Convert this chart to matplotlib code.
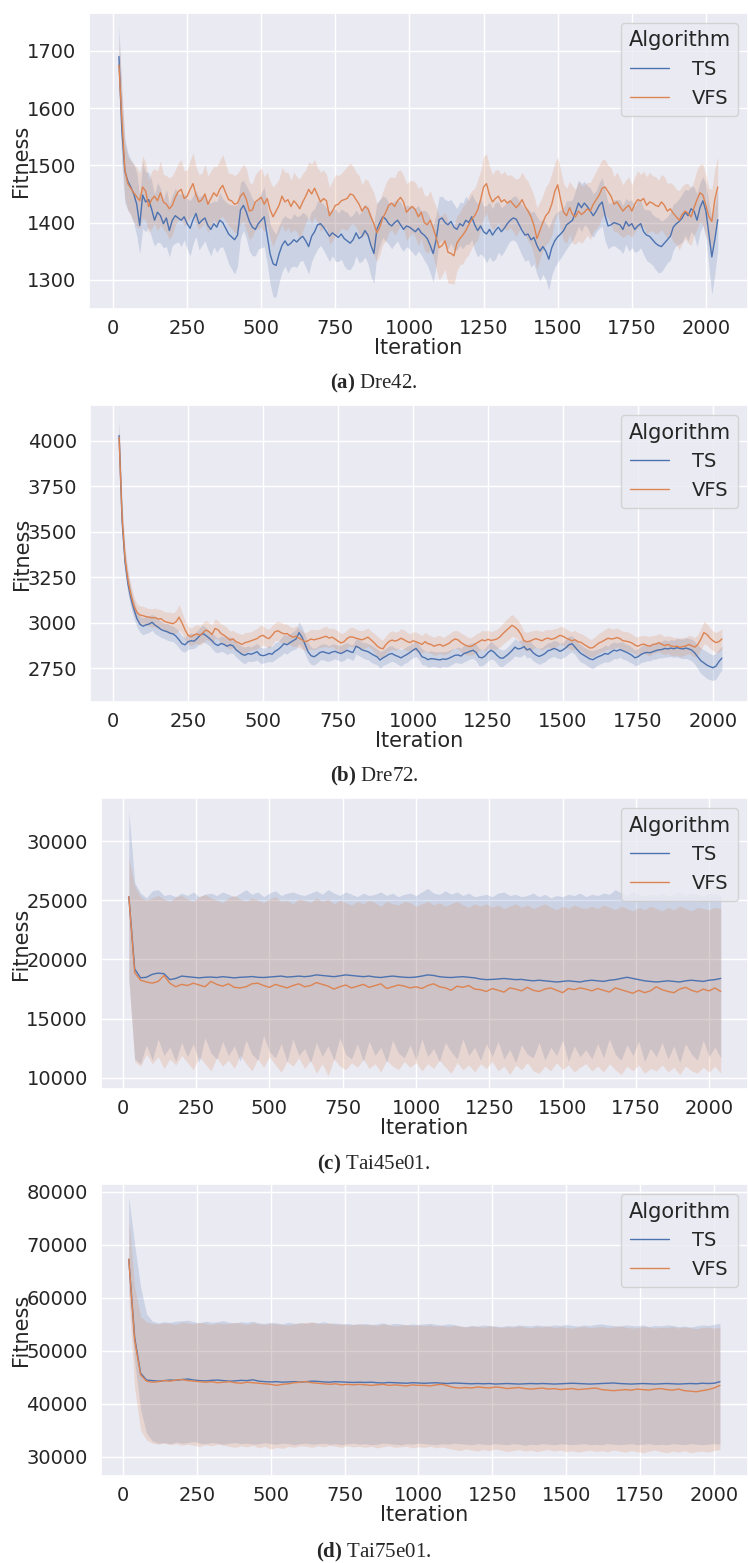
import numpy as np
import matplotlib.pyplot as plt
import seaborn as sns
from matplotlib.ticker import MultipleLocator

# ---- Dre42: mean fitness and CI half-width, every 10 iterations from 20 ----
dre42_ts_mean = [
    1690, 1560, 1490, 1472, 1462, 1450, 1432, 1395, 1448, 1436,
    1440, 1424, 1404, 1418, 1412, 1398, 1408, 1386, 1404, 1412,
    1408, 1404, 1410, 1398, 1390, 1405, 1416, 1398, 1404, 1408,
    1395, 1388, 1398, 1392, 1404, 1400, 1390, 1380, 1375, 1370,
    1378, 1422, 1430, 1418, 1402, 1392, 1388, 1398, 1404, 1410,
    1378, 1345, 1328, 1325, 1345, 1360, 1368, 1360, 1364, 1370,
    1366, 1372, 1376, 1368, 1358, 1376, 1384, 1396, 1398, 1392,
    1384, 1376, 1382, 1378, 1374, 1380, 1372, 1368, 1364, 1370,
    1382, 1372, 1376, 1386, 1378, 1360, 1346, 1388, 1400, 1410,
    1406, 1398, 1394, 1400, 1404, 1396, 1388, 1394, 1392, 1388,
    1384, 1390, 1382, 1378, 1372, 1360, 1346, 1370, 1405, 1408,
    1400, 1396, 1402, 1392, 1388, 1398, 1394, 1404, 1400, 1410,
    1396, 1386, 1394, 1384, 1380, 1388, 1378, 1386, 1392, 1384,
    1390, 1398, 1404, 1408, 1406, 1396, 1386, 1378, 1380, 1370,
    1374, 1360, 1350, 1358, 1350, 1336, 1356, 1368, 1375, 1380,
    1386, 1396, 1400, 1404, 1418, 1434, 1426, 1434, 1428, 1420,
    1412, 1420, 1430, 1436, 1412, 1394, 1396, 1400, 1398, 1396,
    1388, 1402, 1394, 1398, 1388, 1394, 1398, 1384, 1378, 1376,
    1370, 1364, 1360, 1358, 1364, 1370, 1376, 1392, 1398, 1402,
    1408, 1418, 1412, 1424, 1420, 1404, 1426, 1438, 1420, 1380,
    1340, 1370, 1405,
]
dre42_ts_ci = [
    55, 60, 55, 50, 48, 52, 55, 50, 58, 52,
    48, 50, 45, 52, 48, 42, 50, 46, 44, 48,
    42, 46, 40, 44, 48, 42, 40, 46, 44, 40,
    42, 46, 40, 44, 48, 42, 46, 52, 56, 60,
    54, 48, 44, 46, 52, 50, 46, 44, 48, 52,
    50, 52, 58, 55, 50, 46, 44, 48, 42, 46,
    44, 40, 42, 46, 48, 44, 40, 42, 38, 40,
    42, 44, 40, 46, 42, 44, 48, 50, 46, 44,
    40, 42, 44, 46, 50, 54, 52, 46, 40, 36,
    38, 36, 40, 38, 36, 40, 38, 36, 38, 40,
    42, 40, 38, 44, 46, 48, 50, 44, 40, 38,
    40, 42, 38, 40, 36, 38, 40, 42, 38, 40,
    44, 46, 48, 44, 50, 48, 46, 50, 44, 42,
    40, 38, 36, 38, 40, 42, 44, 46, 44, 48,
    46, 50, 52, 48, 50, 54, 48, 46, 44, 42,
    40, 42, 38, 36, 38, 40, 42, 38, 36, 40,
    38, 36, 40, 42, 44, 40, 38, 40, 42, 44,
    42, 40, 44, 42, 40, 44, 42, 40, 44, 46,
    44, 46, 48, 44, 42, 40, 42, 40, 38, 40,
    42, 40, 44, 40, 42, 46, 44, 42, 48, 56,
    66, 60, 52,
]
dre42_vfs_mean = [
    1675, 1580, 1492, 1468, 1460, 1452, 1445, 1438, 1462, 1455,
    1428, 1440, 1446, 1438, 1452, 1436, 1432, 1424, 1430, 1444,
    1454, 1458, 1442, 1446, 1458, 1468, 1448, 1436, 1440, 1450,
    1432, 1442, 1452, 1446, 1458, 1465, 1452, 1440, 1438, 1432,
    1434, 1446, 1452, 1440, 1420, 1422, 1436, 1440, 1444, 1432,
    1442, 1422, 1410, 1420, 1430, 1446, 1436, 1440, 1428, 1438,
    1432, 1424, 1436, 1446, 1458, 1450, 1460, 1448, 1436, 1442,
    1438, 1412, 1420, 1430, 1432, 1438, 1440, 1442, 1450, 1448,
    1440, 1432, 1420, 1428, 1424, 1410, 1398, 1382, 1392, 1408,
    1418, 1430, 1434, 1428, 1438, 1444, 1436, 1418, 1424, 1428,
    1422, 1410, 1418, 1400, 1396, 1404, 1390, 1374, 1356, 1360,
    1368, 1348, 1346, 1342, 1364, 1372, 1378, 1386, 1396, 1406,
    1412, 1422, 1440, 1462, 1468, 1448, 1436, 1442, 1446, 1436,
    1440, 1434, 1438, 1432, 1426, 1432, 1440, 1428, 1420, 1410,
    1395, 1372, 1386, 1400, 1412, 1418, 1432, 1454, 1466, 1440,
    1418, 1412, 1426, 1414, 1410, 1420, 1414, 1418, 1424, 1420,
    1432, 1440, 1448, 1460, 1462, 1454, 1446, 1432, 1436, 1428,
    1420, 1426, 1430, 1420, 1432, 1440, 1438, 1442, 1430, 1436,
    1434, 1430, 1428, 1436, 1430, 1420, 1424, 1416, 1410, 1404,
    1414, 1420, 1416, 1410, 1426, 1440, 1452, 1448, 1430, 1410,
    1402, 1440, 1462,
]
dre42_vfs_ci = [
    50, 55, 50, 46, 48, 50, 52, 48, 54, 50,
    46, 50, 48, 52, 56, 48, 50, 54, 52, 48,
    50, 52, 48, 46, 50, 54, 50, 48, 46, 52,
    50, 48, 46, 52, 50, 54, 50, 46, 48, 50,
    52, 48, 50, 54, 50, 46, 48, 50, 52, 48,
    46, 50, 52, 48, 46, 50, 52, 48, 46, 50,
    48, 52, 50, 46, 48, 52, 50, 48, 52, 50,
    46, 50, 52, 54, 50, 48, 52, 56, 54, 50,
    48, 50, 46, 48, 50, 52, 54, 50, 48, 46,
    50, 48, 46, 50, 52, 48, 46, 50, 48, 46,
    48, 50, 46, 48, 50, 52, 50, 54, 56, 52,
    50, 54, 52, 50, 48, 46, 50, 48, 52, 50,
    48, 52, 50, 54, 52, 50, 48, 50, 46, 48,
    50, 48, 46, 48, 50, 46, 48, 50, 52, 50,
    52, 54, 50, 48, 50, 52, 54, 50, 48, 52,
    50, 48, 46, 50, 48, 52, 50, 48, 46, 50,
    48, 50, 52, 50, 48, 46, 50, 48, 52, 50,
    46, 48, 50, 46, 48, 50, 46, 48, 50, 52,
    48, 50, 46, 48, 50, 48, 46, 50, 48, 52,
    50, 48, 52, 50, 48, 52, 50, 54, 52, 50,
    56, 54, 52,
]

# ---- Dre72: mean fitness and CI half-width, every 10 iterations from 20 ----
dre72_ts_mean = [
    4030, 3560, 3330, 3210, 3130, 3070, 3020, 2990, 2980, 2988,
    2992, 3002, 2986, 2975, 2962, 2955, 2950, 2942, 2938, 2925,
    2905, 2884, 2878, 2895, 2900, 2898, 2912, 2930, 2940, 2928,
    2915, 2900, 2882, 2874, 2885, 2880, 2870, 2878, 2872, 2850,
    2838, 2825, 2820, 2830, 2826, 2832, 2840, 2822, 2818, 2822,
    2830, 2826, 2842, 2852, 2866, 2884, 2878, 2890, 2900, 2910,
    2945, 2920, 2880, 2840, 2818, 2812, 2822, 2836, 2840, 2834,
    2830, 2838, 2842, 2835, 2830, 2838, 2848, 2840, 2836, 2870,
    2862, 2850, 2845, 2840, 2830, 2820, 2812, 2794, 2806, 2815,
    2826, 2830, 2820, 2814, 2806, 2816, 2825, 2836, 2848, 2858,
    2838, 2812, 2806, 2796, 2802, 2800, 2797, 2795, 2800, 2798,
    2804, 2812, 2820, 2822, 2816, 2830, 2835, 2842, 2848, 2836,
    2810, 2806, 2816, 2835, 2848, 2838, 2820, 2806, 2804, 2816,
    2830, 2846, 2865, 2855, 2858, 2868, 2850, 2856, 2835, 2822,
    2814, 2820, 2830, 2845, 2850, 2858, 2852, 2842, 2850, 2862,
    2878, 2884, 2866, 2846, 2830, 2820, 2810, 2800, 2796, 2806,
    2814, 2820, 2830, 2826, 2838, 2848, 2844, 2852, 2845, 2838,
    2830, 2820, 2806, 2812, 2824, 2832, 2836, 2834, 2840, 2846,
    2850, 2852, 2858, 2855, 2860, 2856, 2862, 2858, 2855, 2860,
    2855, 2848, 2832, 2810, 2790, 2778, 2766, 2758, 2752, 2760,
    2785, 2805,
]
dre72_ts_ci = [
    90, 80, 60, 55, 50, 48, 46, 44, 46, 48,
    46, 44, 48, 46, 44, 42, 46, 44, 42, 44,
    46, 42, 40, 42, 44, 40, 42, 44, 46, 42,
    40, 42, 44, 40, 42, 44, 46, 44, 42, 40,
    42, 44, 46, 42, 40, 44, 46, 44, 42, 40,
    44, 42, 46, 44, 48, 50, 52, 48, 50, 54,
    60, 56, 52, 50, 48, 46, 44, 42, 44, 46,
    42, 44, 40, 42, 44, 46, 42, 40, 44, 42,
    44, 42, 46, 44, 48, 46, 44, 46, 42, 44,
    46, 42, 40, 44, 46, 42, 44, 40, 42, 44,
    42, 44, 40, 42, 44, 40, 42, 44, 40, 42,
    44, 42, 40, 44, 42, 46, 44, 42, 44, 46,
    48, 44, 42, 46, 48, 44, 46, 48, 44, 42,
    44, 46, 48, 44, 46, 42, 44, 46, 44, 42,
    44, 42, 46, 44, 42, 44, 46, 42, 44, 46,
    48, 44, 42, 46, 48, 44, 46, 48, 50, 46,
    44, 42, 46, 44, 48, 46, 44, 42, 46, 44,
    46, 44, 42, 46, 44, 48, 46, 44, 42, 46,
    44, 46, 48, 44, 46, 48, 50, 52, 54, 56,
    58, 60, 62, 66, 70, 72, 74, 72, 70, 72,
    68, 66,
]
dre72_vfs_mean = [
    4020, 3580, 3350, 3230, 3150, 3090, 3055, 3042, 3038, 3033,
    3030, 3026, 3028, 3020, 3022, 3008, 3002, 2998, 2994, 3005,
    3030, 2998, 2960, 2930, 2922, 2932, 2938, 2930, 2945, 2960,
    2950, 2935, 2968, 2960, 2940, 2930, 2918, 2904, 2910, 2895,
    2888, 2880, 2890, 2894, 2900, 2906, 2912, 2925, 2930, 2918,
    2912, 2930, 2950, 2955, 2945, 2938, 2940, 2928, 2920, 2925,
    2915, 2905, 2895, 2900, 2910, 2905, 2910, 2914, 2920, 2925,
    2915, 2920, 2910, 2898, 2888, 2895, 2912, 2922, 2920, 2914,
    2910, 2905, 2912, 2920, 2905, 2890, 2872, 2860, 2856, 2880,
    2896, 2904, 2898, 2904, 2914, 2906, 2896, 2890, 2900, 2895,
    2888, 2880, 2895, 2884, 2880, 2870, 2876, 2880, 2870, 2878,
    2886, 2900, 2910, 2905, 2890, 2880, 2872, 2868, 2874, 2885,
    2895, 2905, 2900, 2908, 2902, 2905, 2910, 2922, 2940, 2955,
    2970, 2985, 2975, 2960, 2935, 2900, 2895, 2898, 2906, 2912,
    2906, 2900, 2910, 2915, 2908, 2912, 2920, 2930, 2925, 2915,
    2908, 2900, 2906, 2895, 2892, 2880, 2870, 2860, 2862, 2875,
    2888, 2895, 2905, 2914, 2910, 2912, 2918, 2912, 2900, 2898,
    2894, 2888, 2876, 2870, 2878, 2882, 2874, 2870, 2880, 2882,
    2890, 2880, 2874, 2880, 2872, 2868, 2870, 2864, 2868, 2872,
    2880, 2872, 2865, 2880, 2910, 2945, 2935, 2915, 2900, 2890,
    2895, 2910,
]
dre72_vfs_ci = [
    80, 70, 60, 55, 52, 50, 48, 50, 52, 50,
    48, 50, 52, 54, 50, 52, 56, 60, 58, 62,
    70, 58, 52, 50, 48, 50, 52, 54, 56, 52,
    50, 52, 54, 50, 52, 56, 54, 50, 48, 50,
    52, 54, 56, 52, 50, 54, 56, 58, 54, 50,
    52, 54, 50, 52, 56, 54, 52, 50, 52, 56,
    52, 50, 48, 52, 54, 56, 52, 50, 54, 56,
    52, 50, 54, 56, 52, 50, 48, 52, 54, 50,
    48, 50, 52, 50, 48, 52, 54, 52, 50, 48,
    50, 52, 50, 48, 52, 54, 50, 48, 50, 52,
    50, 48, 52, 50, 48, 50, 52, 50, 48, 50,
    52, 50, 48, 50, 52, 54, 50, 48, 50, 52,
    50, 52, 54, 50, 48, 52, 54, 56, 58, 60,
    62, 60, 56, 54, 52, 50, 52, 54, 50, 48,
    50, 52, 50, 48, 52, 54, 50, 48, 52, 50,
    48, 50, 52, 50, 48, 52, 50, 48, 50, 52,
    54, 56, 58, 60, 56, 54, 52, 50, 52, 54,
    52, 50, 48, 52, 50, 48, 52, 54, 50, 48,
    50, 52, 50, 48, 52, 50, 48, 52, 50, 48,
    50, 52, 54, 56, 60, 62, 58, 56, 54, 56,
    58, 56,
]

# ---- Tai45e01: mean and CI bounds, every 20 iterations from 20 ----
tai45_ts_mean = [
    25300, 19200, 18450, 18500, 18750, 18850, 18800, 18300, 18400, 18600,
    18550, 18500, 18450, 18500, 18520, 18480, 18550, 18500, 18450, 18500,
    18520, 18560, 18500, 18480, 18520, 18560, 18600, 18520, 18550, 18600,
    18550, 18600, 18700, 18650, 18600, 18550, 18620, 18700, 18650, 18600,
    18550, 18600, 18520, 18480, 18550, 18600, 18550, 18500, 18480, 18520,
    18600, 18700, 18650, 18550, 18500, 18480, 18520, 18550, 18500, 18450,
    18350, 18300, 18320, 18350, 18400, 18350, 18300, 18320, 18250, 18200,
    18250, 18200, 18150, 18100, 18150, 18200, 18150, 18100, 18200, 18250,
    18200, 18150, 18250, 18300, 18400, 18500, 18400, 18300, 18200, 18150,
    18100, 18150, 18200, 18150, 18100, 18200, 18250, 18200, 18150, 18250,
    18300, 18400,
]
tai45_ts_hi = [
    32500, 26500, 25600, 25200, 25800, 25900, 25400, 25500, 25300, 25600,
    25400, 25700, 25300, 25500, 25600, 25400, 25700, 25500, 25300, 25600,
    25900, 25500, 25700, 25300, 25600, 25800, 25400, 25600, 25700, 25500,
    25400, 25600, 25800, 25500, 25900, 25600, 25400, 25700, 25500, 25300,
    25600, 25400, 25500, 25700, 25400, 25600, 25300, 25500, 25600, 25400,
    25700, 26000, 25600, 25500, 25800, 25500, 25700, 25400, 25600, 25300,
    25400, 25500, 25300, 25600, 25700, 25400, 25500, 25300, 25400, 25600,
    25300, 25500, 25200, 25400, 25300, 25500, 25400, 25600, 25300, 25500,
    25400, 25600, 25500, 25900, 25600, 25400, 25700, 25500, 25300, 25500,
    25400, 25600, 25300, 25500, 25700, 25400, 25600, 25500, 25300, 25600,
    25500, 25400,
]
tai45_ts_lo = [
    18400, 11600, 11200, 12800, 11500, 13300, 11900, 12600, 11400, 13000,
    11800, 12900, 11300, 13400, 12100, 11600, 13100, 11900, 12700, 11400,
    13200, 12000, 11500, 13600, 12200, 11700, 12900, 11400, 13300, 11900,
    12500, 11300, 13000, 11800, 12700, 11500, 13400, 12000, 11600, 12900,
    11400, 13100, 11900, 12600, 11300, 13200, 12100, 11700, 12800, 11500,
    13300, 11800, 12500, 11400, 13000, 12200, 11600, 13300, 11900, 12600,
    11500, 12900, 11800, 13100, 11600, 12400, 11300, 12800, 12000, 11700,
    13000, 11500, 12600, 11900, 13200, 11400, 12700, 11800, 12400, 11600,
    12900, 11700, 13300, 12000, 11500, 12800, 11900, 13100, 11400, 12500,
    11800, 13000, 11600, 12700, 11300, 12900, 12000, 11500, 13200, 11800,
    12600, 11700,
]
tai45_vfs_mean = [
    25300, 18900, 18250, 18100, 18000, 18150, 18650, 18000, 17700, 17900,
    17800, 18000, 17850, 17700, 18150, 17900, 17750, 17950, 17650, 17600,
    17700, 17950, 18000, 17800, 17650, 17900, 17750, 17600, 17800, 17950,
    17700, 17800, 18050, 17900, 17750, 17500, 17700, 17850, 17600, 17750,
    17900, 17650, 17800, 17950, 17550, 17700, 17850, 17750, 17600, 17700,
    17550, 17800, 17950, 17700, 17600, 17400, 17750, 17650, 17800, 17500,
    17450, 17300, 17550, 17400, 17250, 17600, 17500, 17350, 17650, 17400,
    17300, 17500, 17600, 17400, 17200, 17550, 17450, 17600, 17500, 17350,
    17550, 17400, 17250, 17600, 17450, 17300, 17150, 17400, 17200, 17350,
    17700, 17450, 17300, 17200, 17500, 17650, 17400, 17250, 17500, 17350,
    17600, 17300,
]
tai45_vfs_hi = [
    28500, 26200, 25300, 25000, 25200, 25400, 25100, 24900, 25300, 25400,
    25100, 24900, 25300, 25500, 25200, 25000, 24800, 25200, 25400, 25100,
    24900, 25200, 25000, 24800, 25100, 25300, 24900, 25000, 24700, 25100,
    25000, 24800, 25200, 24900, 25100, 24700, 25000, 24800, 24600, 24900,
    24700, 25000, 24800, 24500, 24900, 24700, 24600, 24900, 24800, 24500,
    24700, 24900, 24600, 24800, 24500, 24700, 24900, 24600, 24400, 24700,
    24500, 24700, 24400, 24600, 24300, 24500, 24700, 24400, 24600, 24300,
    24500, 24700, 24400, 24200, 24500, 24300, 24600, 24400, 24300, 24500,
    24300, 24600, 24400, 24200, 24500, 24300, 24100, 24400, 24200, 24500,
    24300, 24100, 24400, 24200, 24500, 24300, 24100, 24400, 24300, 24200,
    24400, 24300,
]
tai45_vfs_lo = [
    18300, 11400, 11000, 12000, 11200, 11800, 10800, 11600, 11100, 11900,
    11300, 10700, 11800, 11200, 10600, 11700, 11000, 11500, 10800, 11900,
    11200, 10600, 11600, 10900, 11800, 11100, 10500, 11400, 11000, 11700,
    10800, 11500, 10400, 11200, 10200, 11600, 11000, 10700, 11300, 10900,
    11600, 10800, 11200, 10500, 11500, 11000, 10700, 11400, 10900, 11300,
    10600, 11200, 10800, 11500, 10900, 10400, 11300, 10700, 11100, 10500,
    11200, 10800, 11400, 10600, 11000, 10300, 11100, 10700, 11300, 10600,
    10400, 11000, 10600, 11300, 10700, 11100, 10500, 10900, 11200, 10600,
    11000, 10500, 11200, 10700, 10300, 11000, 10600, 11100, 10400, 10800,
    10600, 11100, 10500, 10900, 10300, 11000, 10600, 10400, 10900, 10500,
    11000, 10400,
]

# ---- Tai75e01: mean and CI bounds, every 20 iterations from 20 ----
tai75_ts_mean = [
    67300, 52500, 45800, 44500, 44400, 44300, 44400, 44500, 44450, 44600,
    44700, 44500, 44400, 44350, 44450, 44500, 44400, 44300, 44350, 44450,
    44400, 44550, 44300, 44200, 44150, 44200, 44100, 44150, 44200, 44100,
    44200, 44300, 44250, 44150, 44100, 44200, 44150, 44100, 44050, 44100,
    44050, 44100, 44000, 43950, 44050, 44000, 43950, 43900, 44000, 43950,
    43900, 43950, 44000, 43900, 43850, 43950, 43900, 43850, 43800, 43850,
    43800, 43850, 43750, 43800, 43850, 43800, 43750, 43800, 43850, 43800,
    43850, 43800, 43750, 43800, 43850, 43900, 43850, 43800, 43750, 43800,
    43850, 43900, 43950, 43850, 43800, 43750, 43800, 43850, 43800, 43750,
    43800, 43850, 43800, 43750, 43800, 43850, 43800, 43900, 43850, 43900,
    44200,
]
tai75_ts_hi = [
    79000, 70000, 62000, 57000, 55600, 55300, 55500, 55400, 55600, 55700,
    55800, 55500, 55300, 55600, 55400, 55500, 55700, 55400, 55300, 55500,
    55400, 55600, 55300, 55200, 55400, 55300, 55100, 55400, 55200, 55300,
    55200, 55400, 55300, 55500, 55200, 55300, 55100, 55200, 55000, 55100,
    55200, 55000, 55100, 55300, 55000, 55200, 55100, 54900, 55100, 55000,
    55100, 55200, 55000, 54900, 55100, 55000, 54700, 54600, 54800, 54700,
    54900, 54800, 54700, 54600, 54800, 54700, 54900, 54800, 54700, 54900,
    54800, 54700, 54900, 54800, 55000, 54800, 54700, 54900, 54800, 55000,
    55100, 54900, 54800, 54700, 54900, 54800, 54700, 54900, 54600, 54800,
    54700, 54900, 54800, 54600, 54700, 54500, 54700, 54900, 54800, 55000,
    55200,
]
tai75_ts_lo = [
    62000, 48000, 39000, 34500, 33000, 32600, 32700, 32500, 32800, 32600,
    32700, 32900, 32600, 32500, 32700, 32600, 32400, 32600, 32700, 32500,
    32600, 32400, 32500, 32700, 32500, 32400, 32600, 32500, 32300, 32500,
    32600, 32400, 32500, 32600, 32400, 32500, 32300, 32500, 32600, 32400,
    32500, 32300, 32400, 32600, 32500, 32400, 32300, 32500, 32400, 32600,
    32500, 32400, 32300, 32500, 32400, 32600, 32500, 32400, 32300, 32500,
    32400, 32300, 32500, 32400, 32300, 32500, 32400, 32200, 32400, 32300,
    32500, 32400, 32300, 32500, 32400, 32300, 32400, 32500, 32300, 32400,
    32300, 32500, 32400, 32300, 32400, 32500, 32300, 32400, 32500, 32300,
    32400, 32300, 32500, 32400, 32300, 32500, 32400, 32300, 32400, 32500,
    32400,
]
tai75_vfs_mean = [
    67300, 52000, 45500, 44300, 44100, 44200, 44400, 44300, 44500, 44600,
    44400, 44300, 44200, 44100, 44200, 44000, 44100, 44200, 44000, 43900,
    44100, 44000, 43900, 43800, 43700, 43500, 43700, 43800, 44000, 44100,
    44200, 44000, 43900, 43800, 43700, 43800, 43600, 43700, 43600, 43700,
    43600, 43500, 43600, 43700, 43500, 43600, 43500, 43400, 43600, 43500,
    43500, 43400, 43600, 43700, 43400, 43100, 43000, 43100, 43000, 43200,
    43100, 43000, 43200, 43100, 42900, 43000, 43100, 42900, 42800, 42900,
    43000, 42800, 42900, 42700, 42800, 42900, 42700, 42800, 42900, 43000,
    42700, 42600, 42500, 42600, 42700, 42600, 42800, 42700, 42600, 42800,
    42900, 42700, 42600, 42800, 42500, 42400, 42300, 42500, 42700, 43000,
    43500,
]
tai75_vfs_hi = [
    75000, 62000, 56500, 55500, 55200, 55100, 55300, 55200, 55000, 55400,
    55300, 55100, 55400, 55200, 55000, 55300, 55100, 55200, 55400, 55200,
    55000, 55300, 55100, 55000, 55200, 55100, 55000, 54900, 55100, 55300,
    55400, 55500, 55200, 55100, 55300, 55000, 55100, 54900, 55000, 55100,
    54900, 55000, 54800, 55100, 54900, 54700, 54900, 55000, 54800, 54900,
    54800, 54900, 54700, 54800, 54600, 54800, 54700, 54500, 54700, 54600,
    54500, 54700, 54600, 54400, 54600, 54500, 54700, 54500, 54400, 54600,
    54500, 54700, 54400, 54600, 54500, 54300, 54500, 54600, 54400, 54500,
    54600, 54400, 54500, 54700, 54500, 54300, 54400, 54600, 54500, 54300,
    54500, 54400, 54600, 54300, 54500, 54400, 54200, 54400, 54500, 54300,
    54500,
]
tai75_vfs_lo = [
    60000, 43000, 35000, 33200, 32600, 32400, 32600, 32300, 32500, 32200,
    32400, 32200, 32000, 32300, 32100, 32400, 32200, 32000, 31800, 32100,
    31900, 32200, 31700, 32000, 31500, 31800, 31600, 32000, 31800, 32100,
    32000, 31800, 32100, 31900, 32200, 32000, 31800, 32100, 31900, 32000,
    31800, 32000, 31700, 31900, 32100, 31800, 31900, 32000, 31700, 31900,
    31800, 32000, 31700, 31900, 31600, 31400, 31200, 31500, 31300, 31100,
    31400, 31200, 31500, 31300, 31000, 31200, 31400, 31100, 31300, 31000,
    31200, 31400, 31100, 31300, 31000, 31200, 30900, 31100, 31300, 31000,
    31200, 31000, 31300, 31100, 30900, 31200, 31000, 30800, 31100, 31300,
    31000, 30800, 31100, 30900, 31200, 30800, 31000, 31100, 30900, 31200,
    31400,
]

TS_COLOR = "#4c72b0"
VFS_COLOR = "#dd8452"

sns.set_theme(style="darkgrid")
plt.rcParams["font.family"] = ["DejaVu Sans"]
plt.rcParams["mathtext.fontset"] = "custom"
plt.rcParams["mathtext.rm"] = "Liberation Serif"
plt.rcParams["mathtext.bf"] = "Liberation Serif:bold"


def sym_band(mean, half):
    mean = np.asarray(mean, float)
    half = np.asarray(half, float)
    return mean - half, mean + half


def draw(ax, step, series, xlim, ylim, ystep):
    for name, color, mean, lo, hi in series:
        it = 20 + step * np.arange(len(mean))
        ax.fill_between(it, lo, hi, color=color, alpha=0.2, linewidth=0)
        ax.plot(it, mean, color=color, lw=1.0, label=name)
    ax.set_xlim(*xlim)
    ax.set_ylim(*ylim)
    ax.xaxis.set_major_locator(MultipleLocator(250))
    ax.yaxis.set_major_locator(MultipleLocator(ystep))
    ax.tick_params(labelsize=14)
    ax.tick_params(axis="x", pad=1.5)
    ax.set_xlabel("Iteration", fontsize=15, labelpad=-0.5)
    ax.set_ylabel("Fitness", fontsize=15, labelpad=-3.5)
    ax.legend(title="Algorithm", loc="upper right", fontsize=14,
              title_fontsize=15, handletextpad=1.2)


W, H = 748, 1563
fig = plt.figure(figsize=(W / 100, H / 100), dpi=100)


def add_axes(left, top, bottom, right=748):
    return fig.add_axes([left / W, 1 - bottom / H, (right - left) / W, (bottom - top) / H])


# (a) Dre42
ax = add_axes(89, 13, 309)
draw(ax, 10, [
    ("TS", TS_COLOR, dre42_ts_mean, *sym_band(dre42_ts_mean, dre42_ts_ci)),
    ("VFS", VFS_COLOR, dre42_vfs_mean, *sym_band(dre42_vfs_mean, dre42_vfs_ci)),
], (-81, 2142), (1249, 1766), 100)

# (b) Dre72
ax = add_axes(90, 405, 702)
draw(ax, 10, [
    ("TS", TS_COLOR, dre72_ts_mean, *sym_band(dre72_ts_mean, dre72_ts_ci)),
    ("VFS", VFS_COLOR, dre72_vfs_mean, *sym_band(dre72_vfs_mean, dre72_vfs_ci)),
], (-77, 2117), (2563, 4198), 250)

# (c) Tai45e01
ax = add_axes(101, 798, 1089)
draw(ax, 20, [
    ("TS", TS_COLOR, tai45_ts_mean, tai45_ts_lo, tai45_ts_hi),
    ("VFS", VFS_COLOR, tai45_vfs_mean, tai45_vfs_lo, tai45_vfs_hi),
], (-75, 2133), (9070, 33630), 5000)

# (d) Tai75e01
ax = add_axes(101, 1184, 1476)
draw(ax, 20, [
    ("TS", TS_COLOR, tai75_ts_mean, tai75_ts_lo, tai75_ts_hi),
    ("VFS", VFS_COLOR, tai75_vfs_mean, tai75_vfs_lo, tai75_vfs_hi),
], (-74, 2115), (26400, 81500), 10000)

# sub-figure captions
captions = [
    (383, r"$\mathbf{(a)}$ Dre42."),
    (776, r"$\mathbf{(b)}$ Dre72."),
    (1164, r"$\mathbf{(c)}$ Tai45e01."),
    (1552, r"$\mathbf{(d)}$ Tai75e01."),
]
for y, text in captions:
    fig.text(0.5, 1 - y / H, text, ha="center", va="center",
             fontsize=15, family="Liberation Serif")

fig.savefig("out.png", dpi=100)
